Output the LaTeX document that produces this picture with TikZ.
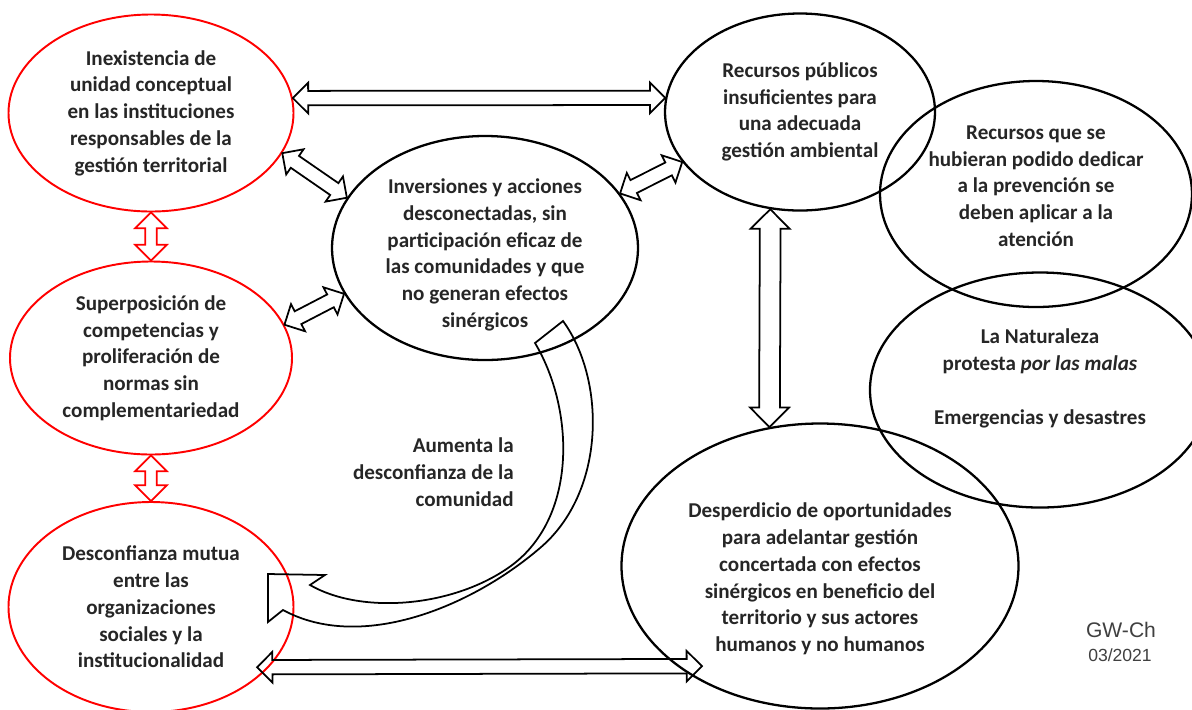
\documentclass[tikz,border=0pt]{standalone}
\usepackage{fontspec}
\setmainfont{Carlito}
\newfontfamily\firma{Liberation Sans}
\usetikzlibrary{shapes.geometric,shapes.arrows,calc}
\tikzset{
  texto/.style = {font=\fontsize{12}{15.2}\selectfont\bfseries, text=black!85},
  burbuja/.style = {texto, ellipse, draw, line width=1.3pt, inner sep=0pt, align=center},
  roja/.style = {burbuja, draw=red, line width=1.1pt},
  flecha/.style = {double arrow, draw, line width=1pt, inner xsep=0pt, inner ysep=3.6pt,
                   double arrow head extend=4.6pt, minimum width=0pt},
  ancha/.style = {flecha, inner ysep=5.4pt, double arrow head extend=5.2pt},
  flecharoja/.style = {flecha, draw=red, inner ysep=2.8pt, double arrow head extend=5.7pt},
}
% flecha doble entre dos puntos
\newcommand{\biarrow}[3][flecha]{%
  \path let \p1=(#2), \p2=(#3),
            \n1={veclen(\x2-\x1,\y2-\y1)}, \n2={atan2(\y2-\y1,\x2-\x1)} in
    node[#1, minimum height=\n1, rotate=\n2] at ($(\p1)!.5!(\p2)$) {};}

\begin{document}
\begin{tikzpicture}[x=0.2mm, y=-0.2mm]
\fill[white] (0,0) rectangle (1192,709);
\useasboundingbox (0,0) rectangle (1192,709);

% problemas (rojo)
\node[roja, minimum width=57mm, minimum height=39.4mm] (inex) at (151,113)
  {Inexistencia de\\unidad conceptual\\en las instituciones\\responsables de la\\gestión territorial};
\node[roja, minimum width=56.4mm, minimum height=38.6mm] (super) at (151,358)
  {Superposición de\\competencias y\\proliferación de\\normas sin\\complementariedad};
\node[roja, minimum width=57mm, minimum height=42mm] (desc) at (151,607)
  {Desconfianza mutua\\entre las\\organizaciones\\sociales y la\\institucionalidad};

% efectos
\node[burbuja, minimum width=61.2mm, minimum height=44.8mm] (inv) at (485,248) {};
\node[texto, align=center] (invt) at (485,255)
  {Inversiones y acciones\\desconectadas, sin\\participación eficaz de\\las comunidades y que\\no generan efectos\\sinérgicos};
\node[burbuja, minimum width=54mm, minimum height=39.4mm] (recp) at (800,112)
  {Recursos públicos\\insuficientes para\\una adecuada\\gestión ambiental};
\node[burbuja, minimum width=62.4mm, minimum height=45.2mm] (recq) at (1036,194)
  {Recursos que se\\hubieran podido dedicar\\a la prevención se\\deben aplicar a la\\atención\\[-6pt]\mbox{}};
\node[burbuja, minimum width=68mm, minimum height=47mm] (nat) at (1040,390)
  {La Naturaleza\\protesta \textit{por las malas}\\[15.2pt]Emergencias y desastres\\\mbox{}};
\node[burbuja, minimum width=79.4mm, minimum height=57mm] (desp) at (820,566) {};
\node[texto, align=center] (despt) at (820,579)
  {Desperdicio de oportunidades\\para adelantar gestión\\concertada con efectos\\sinérgicos en beneficio del\\territorio y sus actores\\humanos y no humanos};

\node[texto, align=right, anchor=east, inner sep=0pt] (aum) at (514,472)
  {Aumenta la\\desconfianza de la\\comunidad};

\node[font=\firma\fontsize{12}{14}\selectfont, text=black!75] (gw) at (1121,630) {GW-Ch};
\node[font=\firma\fontsize{10}{12}\selectfont, text=black!75] (fecha) at (1120,655) {03/2021};

% flechas dobles
\biarrow{inex.6}{recp.174}
\biarrow{inex.-17}{inv.160}
\biarrow{super.14}{inv.198}
\biarrow{inv.22}{recp.203}
\biarrow[ancha]{recp.253}{desp.110}
\biarrow{$(desc.-27)!-2.4mm!(desp.215)$}{$(desp.215)!-5mm!(desc.-27)$}
\biarrow[flecharoja]{inex.south}{super.north}
\biarrow[flecharoja]{super.south}{desc.north}

% flecha curva
\draw[line width=1pt, line join=miter]
  (535,343) .. controls (575,410) and (578,520) .. (508,568)
            .. controls (450,608) and (360,614) .. (310,585)
  -- (325,575) -- (268,574) -- (268,622) -- (283,610)
            .. controls (360,652) and (470,608) .. (540,548)
            .. controls (606,492) and (606,380) .. (563,321) -- cycle;
\end{tikzpicture}
\end{document}
